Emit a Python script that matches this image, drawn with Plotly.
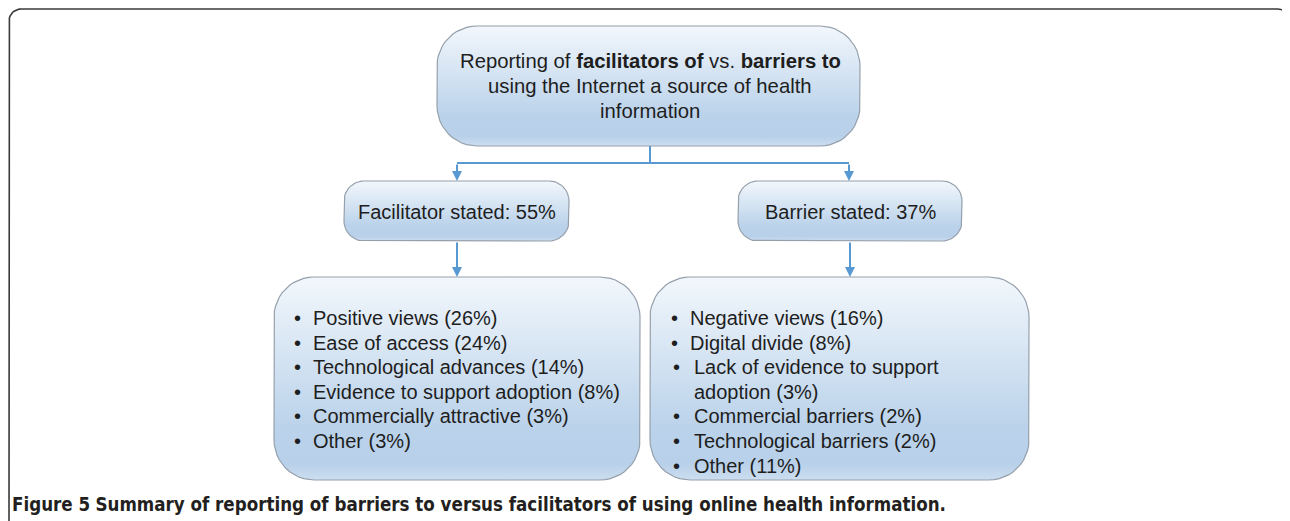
import plotly.graph_objects as go
import math

# ---------------- data ----------------
title_lines = [
    "Reporting of <b>facilitators of</b> vs. <b>barriers to</b>",
    "using the Internet a source of health",
    "information",
]
facilitator_total = 55
barrier_total = 37
fac_items = ["Positive views", "Ease of access", "Technological advances",
             "Evidence to support adoption", "Commercially attractive", "Other"]
fac_pct = [26, 24, 14, 8, 3, 3]
bar_items = ["Negative views", "Digital divide", "Lack of evidence to support adoption",
             "Commercial barriers", "Technological barriers", "Other"]
bar_pct = [16, 8, 3, 2, 2, 11]
caption = "<b>Figure 5</b> <b>Summary of reporting of barriers to versus facilitators of using online health information.</b>"

W, H = 1290, 521
M = 8  # page body margin of the browser
FONT = "Liberation Sans, Arial, sans-serif"
TXT = "#1e1e1e"
LINE = "rgb(88,152,211)"

fig = go.Figure()


def rrect(x0, y0, x1, y1, r, n=12):
    xs, ys = [], []
    corners = [(x1 - r, y0 + r, -90, 0), (x1 - r, y1 - r, 0, 90),
               (x0 + r, y1 - r, 90, 180), (x0 + r, y0 + r, 180, 270)]
    for cx, cy, a0, a1 in corners:
        for i in range(n + 1):
            a = math.radians(a0 + (a1 - a0) * i / n)
            xs.append(cx + r * math.cos(a))
            ys.append(cy + r * math.sin(a))
    xs.append(xs[0]); ys.append(ys[0])
    return xs, ys


def box(x0, y0, x1, y1, r):
    xs, ys = rrect(x0, y0, x1, y1, r)
    fig.add_trace(go.Scatter(
        x=xs, y=ys, mode="lines", fill="toself",
        line=dict(color="rgb(150,160,172)", width=1.2),
        fillgradient=dict(type="vertical", colorscale=[
            [0.0, "rgb(204,222,240)"], [0.08, "rgb(184,208,233)"],
            [0.25, "rgb(186,210,234)"], [1.0, "rgb(242,247,252)"]]),
        hoverinfo="skip", showlegend=False))


def seg(xs, ys):
    fig.add_trace(go.Scatter(x=xs, y=ys, mode="lines",
                             line=dict(color=LINE, width=2),
                             hoverinfo="skip", showlegend=False))


def arrow(x, y_from, y_to):
    fig.add_annotation(x=x, y=y_to, ax=x, ay=y_from, xref="x", yref="y",
                       axref="x", ayref="y", text="", showarrow=True,
                       arrowhead=2, arrowsize=1, arrowwidth=2, arrowcolor=LINE)


def text(x, y, s, size=20, anchor="left", family=FONT, color=TXT):
    fig.add_annotation(x=x, y=y, xref="x", yref="y", text=s, showarrow=False,
                       xanchor=anchor, yanchor="middle",
                       font=dict(family=family, size=size, color=color))


# outer frame
fr = 12
fx, fy = [9], [H + 5]
fx += [9]; fy += [9 + fr]
for i in range(13):
    a = math.radians(180 + 90 * i / 12)
    fx.append(9 + fr + fr * math.cos(a)); fy.append(9 + fr + fr * math.sin(a))
for i in range(13):
    a = math.radians(270 + 90 * i / 12)
    fx.append(1278 + fr * math.cos(a)); fy.append(9 + fr + fr * math.sin(a))
fx.append(1290); fy.append(H + 5)
fig.add_trace(go.Scatter(x=fx, y=fy, mode="lines", line=dict(color="#3a3a3a", width=1.6),
                         hoverinfo="skip", showlegend=False))

# boxes
box(437, 26, 860, 146, 40)
box(344, 181, 569, 241, 20)
box(738, 181, 962, 241, 20)
box(274, 277, 640, 480, 40)
box(650, 277, 1029, 480, 40)

# connectors
seg([650, 650], [146, 163])
seg([457, 849], [163, 163])
arrow(457, 163, 181)
arrow(849, 163, 181)
arrow(457, 241, 277)
arrow(850, 241, 277)

# title text
for i, s in enumerate(title_lines):
    text(650, 61 + 25 * i, s, anchor="center", size=20.3)

text(457, 212, f"Facilitator stated: {facilitator_total}%", anchor="center")
text(850, 212, f"Barrier stated: {barrier_total}%", anchor="center")

# facilitator list
step = 24.6
for i, (it, p) in enumerate(zip(fac_items, fac_pct)):
    y = 318 + step * i
    text(292, y, "•")
    text(311, y, f"{it} ({p}%)")

# barrier list (third item wraps)
row = 0
for i, (it, p) in enumerate(zip(bar_items, bar_pct)):
    bx, tx = (669, 688) if i < 2 else (671, 692)
    y = 318 + step * row
    text(bx, y, "•")
    label = f"{it} ({p}%)"
    if it.startswith("Lack"):
        words = label.split(" ")
        text(tx, y, " ".join(words[:5]))
        row += 1
        text(tx, 318 + step * row, " ".join(words[5:]))
    else:
        text(tx, y, label)
    row += 1

# caption
text(10, 504, caption, size=18.6,
     family="Liberation Sans Narrow, DejaVu Sans Condensed, Arial Narrow, sans-serif",
     color="#231f20")

fig.update_layout(
    width=W - M, height=H - M, margin=dict(l=0, r=0, t=0, b=0),
    paper_bgcolor="white", plot_bgcolor="white",
    xaxis=dict(range=[M, W], visible=False, fixedrange=True),
    yaxis=dict(range=[H, M], visible=False, fixedrange=True),
    showlegend=False,
)
fig.write_html("out.html")
